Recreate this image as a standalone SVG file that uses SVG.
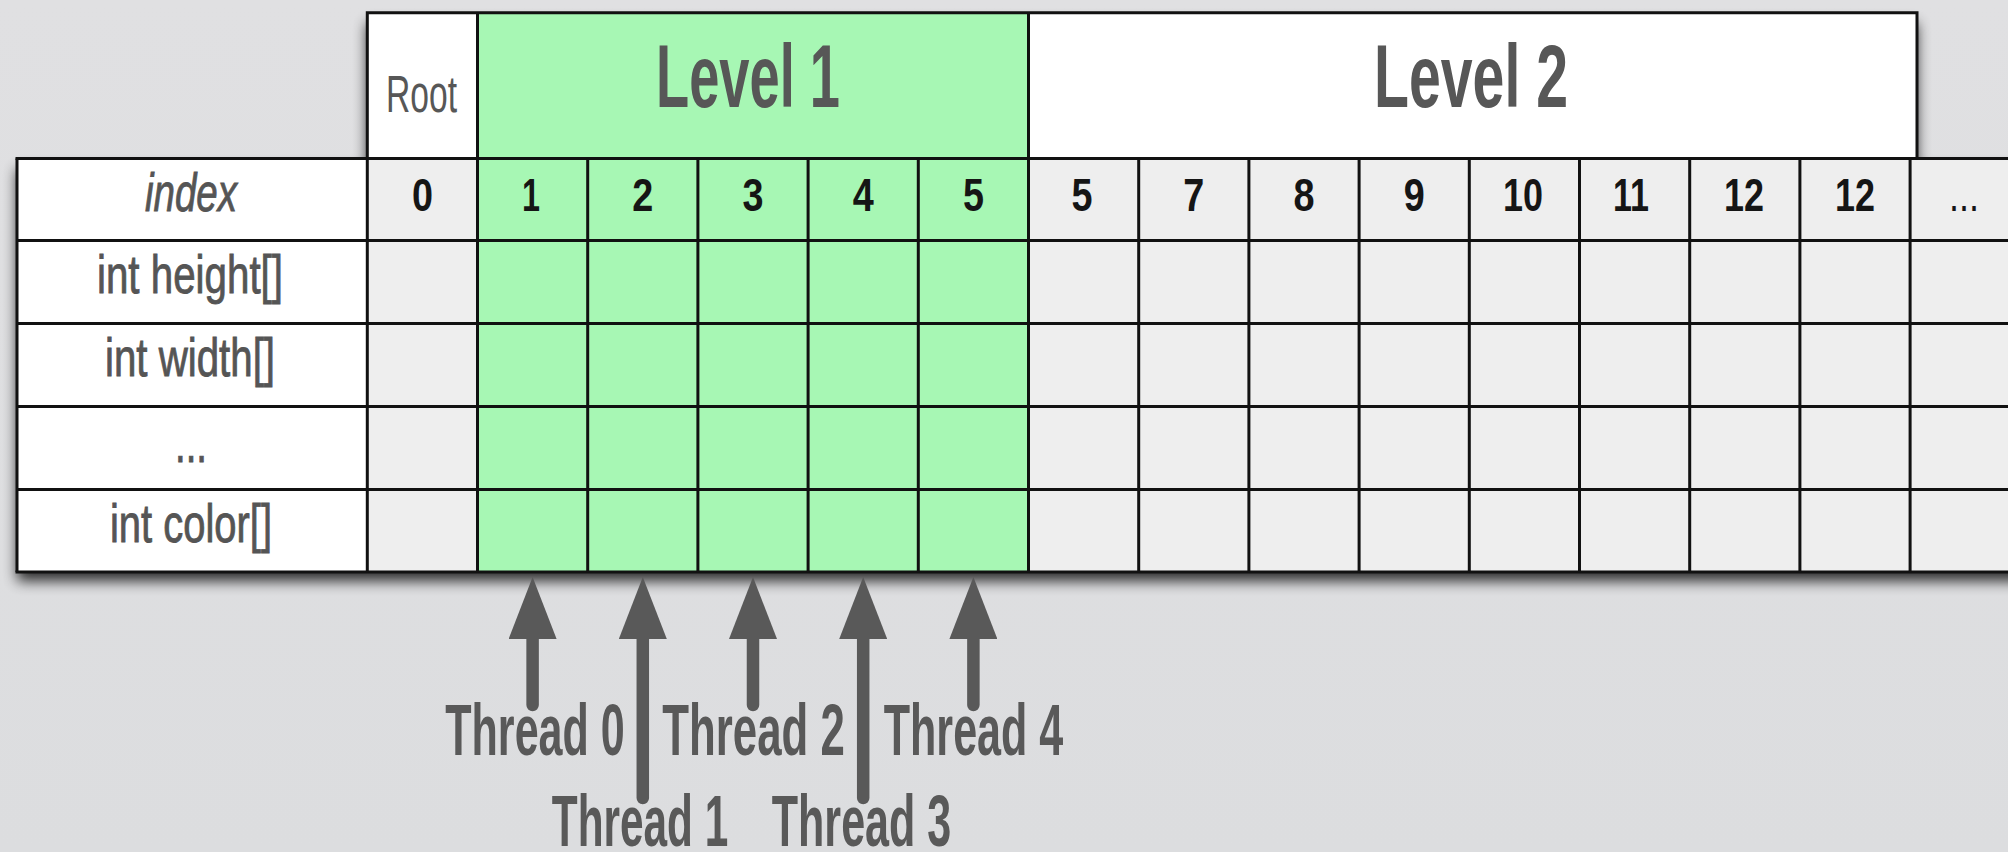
<svg xmlns="http://www.w3.org/2000/svg" width="2008" height="852" viewBox="0 0 2008 852">
  <defs>
    <linearGradient id="bg" x1="0" y1="0" x2="0" y2="1">
      <stop offset="0" stop-color="#e0e0e2"/>
      <stop offset="1" stop-color="#dcdddf"/>
    </linearGradient>
    <filter id="shadow" x="-5%" y="-10%" width="110%" height="130%">
      <feGaussianBlur stdDeviation="7"/>
    </filter>
    <marker id="head" viewBox="0 0 62 48" refX="2" refY="24" markerWidth="62" markerHeight="48" markerUnits="userSpaceOnUse" orient="auto">
      <path d="M0,0 L62,24 L0,48 Z" fill="#595959"/>
    </marker>
    <style>
      .hdr { font-family: "Liberation Sans", Arial, sans-serif; font-weight: bold; fill: #575757; text-anchor: middle; }
      .lbl { font-family: "Liberation Sans", Arial, sans-serif; fill: #555555; stroke: #555555; stroke-width: 0.9; text-anchor: middle; font-size: 54px; }
      .num { font-family: "Liberation Sans", Arial, sans-serif; font-weight: bold; fill: #151515; text-anchor: middle; font-size: 47px; }
      .thr { font-family: "Liberation Sans", Arial, sans-serif; font-weight: bold; fill: #595959; text-anchor: middle; font-size: 73px; }
      .grid { fill: none; stroke: #111111; stroke-width: 3; }
      .arrow { fill: none; stroke: #595959; stroke-width: 12.5; stroke-linecap: round; marker-end: url(#head); }
      .gray { fill: #eeeeee; }
      .green { fill: #a7f7b4; }
      .white { fill: #ffffff; }
    </style>
  </defs>

  <rect x="0" y="0" width="2008" height="852" fill="url(#bg)"/>

  <!-- shadow of table -->
  <path d="M17 160 H367 V14 H1917 V160 H2040 V572 H17 Z" fill="#000" opacity="0.8" transform="translate(0,9)" filter="url(#shadow)"/>

  <!-- header cells -->
  <g id="hdr-root">
    <rect x="367.3" y="12.8" width="110.2" height="145.7" class="white"/>
    <text x="421.5" y="112" class="hdr" style="font-weight:normal" font-size="51" textLength="71" lengthAdjust="spacingAndGlyphs">Root</text>
  </g>
  <g id="hdr-level1">
    <rect x="477.5" y="12.8" width="551" height="145.7" class="green"/>
    <text x="748" y="107" class="hdr" font-size="89" textLength="184" lengthAdjust="spacingAndGlyphs">Level 1</text>
  </g>
  <g id="hdr-level2">
    <rect x="1028.5" y="12.8" width="888.5" height="145.7" class="white"/>
    <text x="1471" y="107" class="hdr" font-size="89" textLength="194" lengthAdjust="spacingAndGlyphs">Level 2</text>
  </g>

  <!-- row labels -->
  <g id="labels">
    <rect x="17" y="158.5" width="350.3" height="413.5" class="white"/>
  </g>
  <g id="lbl-index"><text x="191" y="211" class="lbl" font-style="italic" textLength="92" lengthAdjust="spacingAndGlyphs">index</text></g>
  <g id="lbl-height"><text x="190" y="293" class="lbl" textLength="186" lengthAdjust="spacingAndGlyphs">int height[]</text></g>
  <g id="lbl-width"><text x="190" y="376" class="lbl" textLength="170" lengthAdjust="spacingAndGlyphs">int width[]</text></g>
  <g id="lbl-dots"><text x="191" y="462" class="lbl" textLength="32" lengthAdjust="spacingAndGlyphs">...</text></g>
  <g id="lbl-color"><text x="191" y="542" class="lbl" textLength="162" lengthAdjust="spacingAndGlyphs">int color[]</text></g>

  <!-- body cells -->
  <g id="col-root"><rect x="367.3" y="158.5" width="110.2" height="413.5" class="gray"/></g>
  <g id="col-level1"><rect x="477.5" y="158.5" width="551" height="413.5" class="green"/></g>
  <g id="col-level2"><rect x="1028.5" y="158.5" width="990" height="413.5" class="gray"/></g>

  <!-- index values -->
  <g id="idx-values">
    <text x="422.4" y="211" class="num" textLength="21" lengthAdjust="spacingAndGlyphs">0</text>
    <text x="531" y="211" class="num" textLength="18" lengthAdjust="spacingAndGlyphs">1</text>
    <text x="642.8" y="211" class="num" textLength="21" lengthAdjust="spacingAndGlyphs">2</text>
    <text x="753" y="211" class="num" textLength="21" lengthAdjust="spacingAndGlyphs">3</text>
    <text x="863.2" y="211" class="num" textLength="21" lengthAdjust="spacingAndGlyphs">4</text>
    <text x="973.4" y="211" class="num" textLength="21" lengthAdjust="spacingAndGlyphs">5</text>
    <text x="1082" y="211" class="num" textLength="21" lengthAdjust="spacingAndGlyphs">5</text>
    <text x="1193.8" y="211" class="num" textLength="21" lengthAdjust="spacingAndGlyphs">7</text>
    <text x="1304" y="211" class="num" textLength="21" lengthAdjust="spacingAndGlyphs">8</text>
    <text x="1414.2" y="211" class="num" textLength="21" lengthAdjust="spacingAndGlyphs">9</text>
    <text x="1523" y="211" class="num" textLength="40" lengthAdjust="spacingAndGlyphs">10</text>
    <text x="1631" y="211" class="num" textLength="36" lengthAdjust="spacingAndGlyphs">11</text>
    <text x="1744" y="211" class="num" textLength="40" lengthAdjust="spacingAndGlyphs">12</text>
    <text x="1855" y="211" class="num" textLength="40" lengthAdjust="spacingAndGlyphs">12</text>
    <text x="1964" y="211" class="num" style="font-weight:normal" textLength="30" lengthAdjust="spacingAndGlyphs">...</text>
  </g>

  <!-- grid lines -->
  <g id="grid">
    <path class="grid" d="M367.3 158.5 V12.8 H1917 V158.5 M477.5 12.8 V158.5 M1028.5 12.8 V158.5"/>
    <path class="grid" d="M15.5 158.5 H2010 M17 240.5 H2010 M17 323.5 H2010 M17 406.5 H2010 M17 489.5 H2010 M15.5 572 H2010"/>
    <path class="grid" d="M17 158.5 V572 M367.3 158.5 V572 M477.5 158.5 V572 M587.7 158.5 V572 M697.9 158.5 V572 M808.1 158.5 V572 M918.3 158.5 V572 M1028.5 158.5 V572 M1138.7 158.5 V572 M1248.9 158.5 V572 M1359.1 158.5 V572 M1469.3 158.5 V572 M1579.5 158.5 V572 M1689.7 158.5 V572 M1799.9 158.5 V572 M1910.1 158.5 V572"/>
  </g>

  <!-- connectors -->
  <g id="connectors">
    <path class="arrow" d="M532.6 705 V637"/>
    <path class="arrow" d="M642.8 798 V637"/>
    <path class="arrow" d="M753 705 V637"/>
    <path class="arrow" d="M863.2 798 V637"/>
    <path class="arrow" d="M973.4 705 V637"/>
  </g>

  <!-- thread labels -->
  <g id="thread0"><text class="thr" transform="translate(535 755) scale(0.59 1)">Thread 0</text></g>
  <g id="thread1"><text class="thr" transform="translate(640 846) scale(0.58 1)">Thread 1</text></g>
  <g id="thread2"><text class="thr" transform="translate(753.5 755) scale(0.6 1)">Thread 2</text></g>
  <g id="thread3"><text class="thr" transform="translate(861.5 846) scale(0.59 1)">Thread 3</text></g>
  <g id="thread4"><text class="thr" transform="translate(973.5 755) scale(0.59 1)">Thread 4</text></g>
</svg>
